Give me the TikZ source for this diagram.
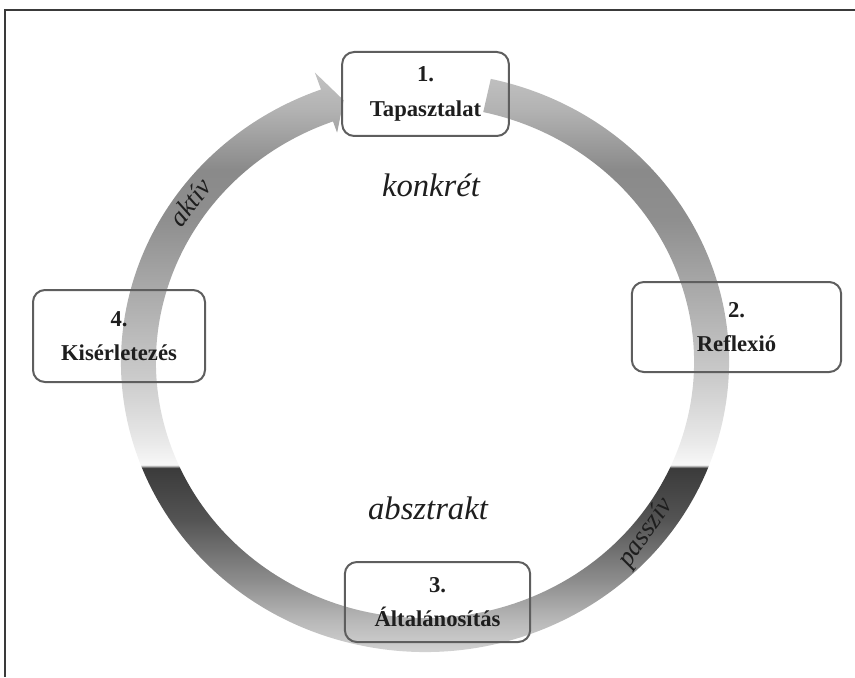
\documentclass[tikz,border=0pt]{standalone}
\usepackage{fontspec}
\setmainfont{Liberation Serif}
\usetikzlibrary{calc}
\definecolor{tinta}{HTML}{1E1E1E}
\definecolor{keret}{HTML}{5E5E5E}
\definecolor{vonal}{HTML}{3A3A3A}
% gyuru szurke atmenete fentrol lefele
\pgfdeclareverticalshading{gyuru}{100bp}{rgb(0bp)=(.85,.85,.85); rgb(26.26bp)=(.85,.85,.85);
  rgb(29.21bp)=(.72,.72,.72); rgb(32.16bp)=(.55,.55,.55); rgb(36.6bp)=(.33,.33,.33);
  rgb(40.44bp)=(.23,.23,.23); rgb(40.66bp)=(.97,.97,.97); rgb(42.5bp)=(.91,.91,.91);
  rgb(46.94bp)=(.8,.8,.8); rgb(54.32bp)=(.65,.65,.65); rgb(58.75bp)=(.56,.56,.56);
  rgb(62.44bp)=(.54,.54,.54); rgb(66.88bp)=(.7,.7,.7); rgb(70.57bp)=(.78,.78,.78);
  rgb(100bp)=(.78,.78,.78)}
\tikzset{
  doboz/.style={rectangle, rounded corners=9pt, draw=keret, line width=1.5pt, align=center,
                text=tinta, font=\fontsize{17}{26}\selectfont\bfseries},
  cimke/.style={text=tinta, font=\fontsize{24.5}{28}\selectfont\itshape},
  ivcimke/.style={text=tinta, font=\fontsize{20}{24}\selectfont\itshape, inner sep=0pt}
}

\begin{document}
\begin{tikzpicture}[x=0.75pt, y=0.75pt]
  \useasboundingbox (0,0) rectangle (855,-677);
  \draw [vonal, line width=1.2pt] (855,-10) -- (5,-10) -- (5,-677);
  \coordinate (kozep) at (425,-362);
  % a gyuru nyillal
  \begin{scope}
    \clip ($(kozep)+(77.5:304 and 290)$)
      arc[start angle=77.5, end angle=-250, x radius=304, y radius=290]
      -- ($(kozep)+(110:322 and 308)$) -- ($(kozep)+(106.5:286.5 and 273)$)
      -- ($(kozep)+(110:257 and 244)$) -- ($(kozep)+(110:269 and 256)$)
      arc[start angle=110, end angle=437.5, x radius=269, y radius=256] -- cycle;
    \shade [shading=gyuru] (0,-677) rectangle (855,0);
  \end{scope}
  \node (tapasztalat) [doboz, minimum width=125pt, minimum height=63pt] at (425.5,-94) {1.\\ Tapasztalat};
  \node (reflexio) [doboz, minimum width=157pt, minimum height=67.5pt] at (736.5,-327) {2.\\ Reflexió};
  \node (altalanositas) [doboz, minimum width=139pt, minimum height=60pt] at (437.5,-602) {3.\\ Általánosítás};
  \node (kiserletezes) [doboz, minimum width=129pt, minimum height=69pt] at (119,-336) {4.\\ Kisérletezés};
  \node (konkret) [cimke, anchor=base] at (431,-196) {konkrét};
  \node (absztrakt) [cimke, anchor=base] at (428,-519) {absztrakt};
  \node (aktiv) [ivcimke, rotate=52] at (190,-202) {aktív};
  \node (passziv) [ivcimke, rotate=55] at (646,-533) {passzív};
\end{tikzpicture}
\end{document}
